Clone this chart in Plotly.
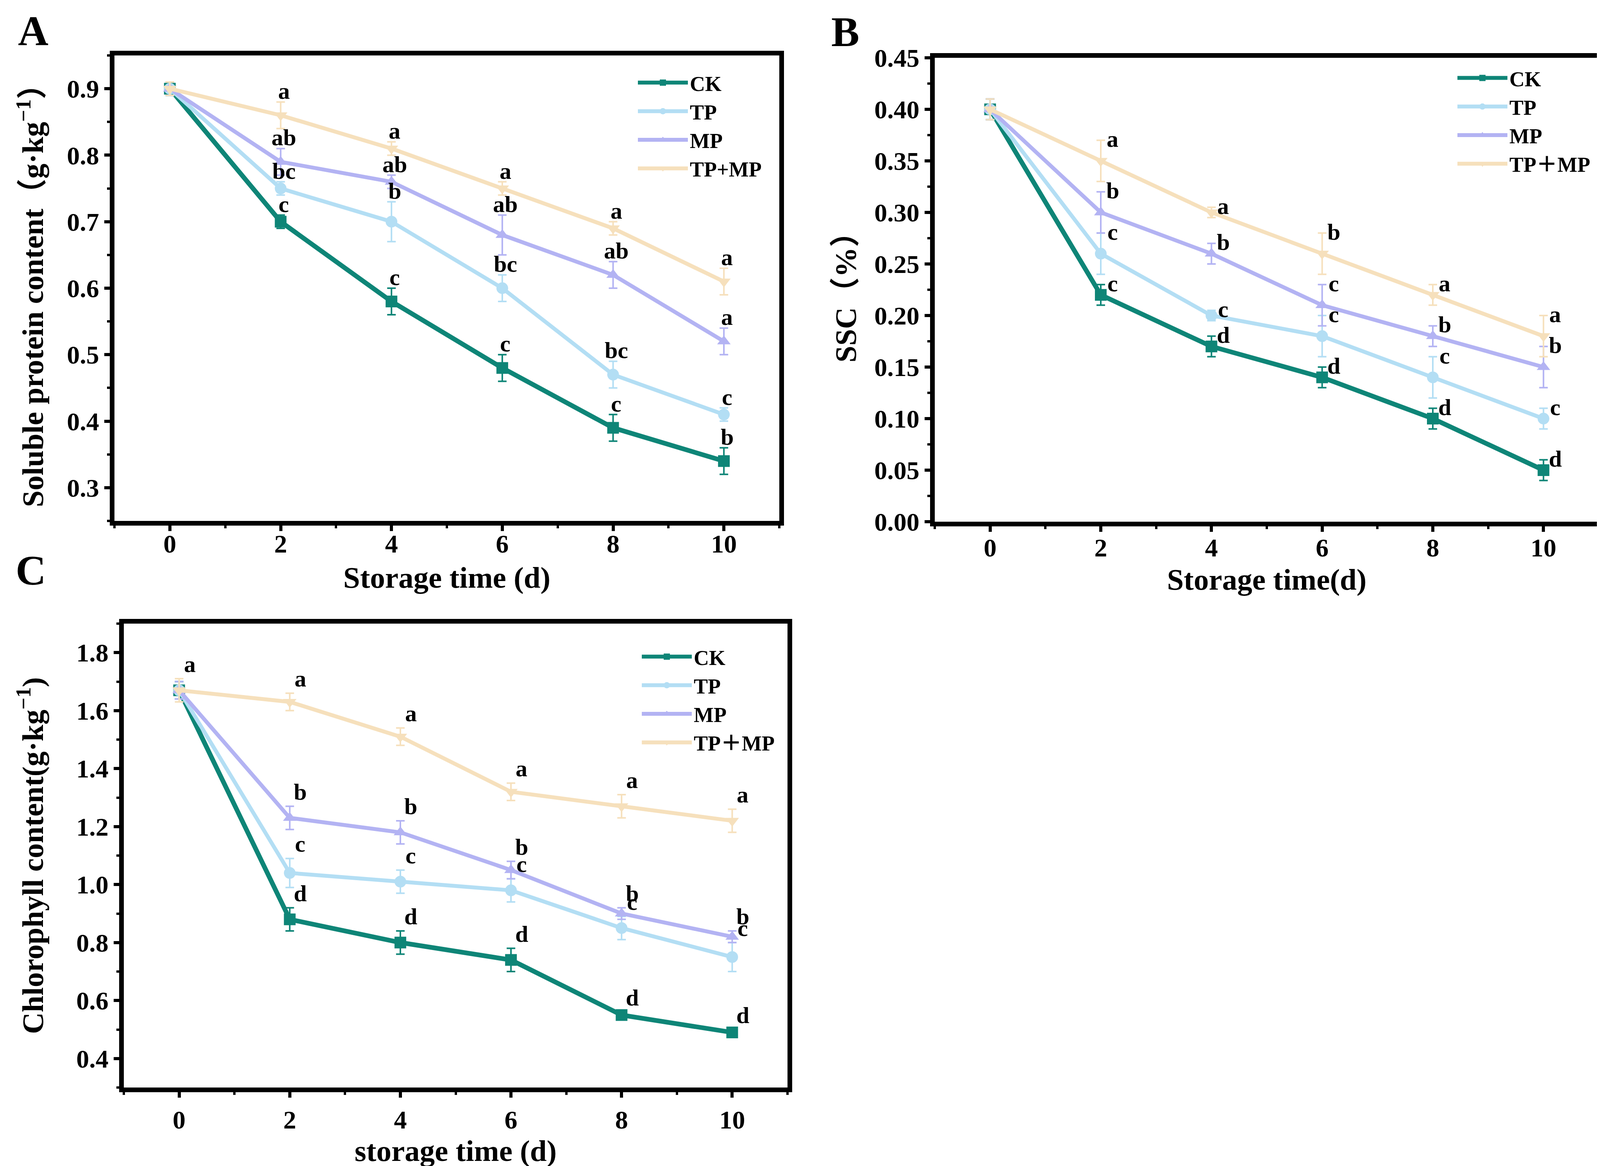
import plotly.graph_objects as go

# storage days
days = [0, 2, 4, 6, 8, 10]

series_names = ["CK", "TP", "MP", "TP+MP"]
colors = ["#0E8577", "#B3DEF4", "#B3B3F3", "#F6E0BC"]
symbols = ["square", "circle", "triangle-up", "triangle-down"]
line_widths = [12, 10, 10, 10]

# A: soluble protein content (g/kg)
protein_ck = [0.90, 0.70, 0.58, 0.48, 0.39, 0.34]
protein_tp = [0.90, 0.75, 0.70, 0.60, 0.47, 0.41]
protein_mp = [0.90, 0.79, 0.76, 0.68, 0.62, 0.52]
protein_tpmp = [0.90, 0.86, 0.81, 0.75, 0.69, 0.61]
protein_ck_err = [0.01, 0.01, 0.02, 0.02, 0.02, 0.02]
protein_tp_err = [0.01, 0.01, 0.03, 0.02, 0.02, 0.01]
protein_mp_err = [0.01, 0.02, 0.01, 0.03, 0.02, 0.02]
protein_tpmp_err = [0.01, 0.02, 0.01, 0.01, 0.01, 0.02]
protein_ck_sig = ["", "c", "c", "c", "c", "b"]
protein_tp_sig = ["", "bc", "b", "bc", "bc", "c"]
protein_mp_sig = ["", "ab", "ab", "ab", "ab", "a"]
protein_tpmp_sig = ["", "a", "a", "a", "a", "a"]

# B: SSC (%)
ssc_ck = [0.40, 0.22, 0.17, 0.14, 0.10, 0.05]
ssc_tp = [0.40, 0.26, 0.20, 0.18, 0.14, 0.10]
ssc_mp = [0.40, 0.30, 0.26, 0.21, 0.18, 0.15]
ssc_tpmp = [0.40, 0.35, 0.30, 0.26, 0.22, 0.18]
ssc_ck_err = [0.01, 0.01, 0.01, 0.01, 0.01, 0.01]
ssc_tp_err = [0.01, 0.02, 0.005, 0.02, 0.02, 0.01]
ssc_mp_err = [0.01, 0.02, 0.01, 0.02, 0.01, 0.02]
ssc_tpmp_err = [0.01, 0.02, 0.005, 0.02, 0.01, 0.02]
ssc_ck_sig = ["", "c", "d", "d", "d", "d"]
ssc_tp_sig = ["", "c", "c", "c", "c", "c"]
ssc_mp_sig = ["", "b", "b", "c", "b", "b"]
ssc_tpmp_sig = ["", "a", "a", "b", "a", "a"]

# C: chlorophyll content (g/kg)
chl_ck = [1.67, 0.88, 0.80, 0.74, 0.55, 0.49]
chl_tp = [1.67, 1.04, 1.01, 0.98, 0.85, 0.75]
chl_mp = [1.67, 1.23, 1.18, 1.05, 0.90, 0.82]
chl_tpmp = [1.67, 1.63, 1.51, 1.32, 1.27, 1.22]
chl_ck_err = [0.03, 0.04, 0.04, 0.04, 0.01, 0.01]
chl_tp_err = [0.03, 0.05, 0.04, 0.04, 0.04, 0.05]
chl_mp_err = [0.03, 0.04, 0.04, 0.03, 0.02, 0.02]
chl_tpmp_err = [0.04, 0.03, 0.03, 0.03, 0.04, 0.04]
chl_ck_sig = ["", "d", "d", "d", "d", "d"]
chl_tp_sig = ["", "c", "c", "c", "c", "c"]
chl_mp_sig = ["", "b", "b", "b", "b", "b"]
chl_tpmp_sig = ["a", "a", "a", "a", "a", "a"]

FONT = "Liberation Serif, Noto Sans CJK SC, serif"
W, H = 4135, 2986

panels = [
    dict(key="", legend="legend",
         values=[protein_ck, protein_tp, protein_mp, protein_tpmp],
         errors=[protein_ck_err, protein_tp_err, protein_mp_err, protein_tpmp_err],
         sigs=[protein_ck_sig, protein_tp_sig, protein_mp_sig, protein_tpmp_sig],
         labels=["CK", "TP", "MP", "TP+MP"],
         xdom=[285 / W, 1987 / W], ydom=[1 - 1326 / H, 1 - 134 / H],
         yrange=[0.25, 0.95], ydtick=0.1, yminor=0.05, yfmt=".1f",
         ytitle="Soluble protein content（g·kg<sup>−1</sup>）",
         xtitle="Storage time (d)", sig_dx=8, sig_dy=28,
         xlab_off=-24, xtitle_off=28, ytitle_off=40,
         leg_x=1620 / W, leg_y=1 - 162 / H),
    dict(key="2", legend="legend2",
         values=[ssc_ck, ssc_tp, ssc_mp, ssc_tpmp],
         errors=[ssc_ck_err, ssc_tp_err, ssc_mp_err, ssc_tpmp_err],
         sigs=[ssc_ck_sig, ssc_tp_sig, ssc_mp_sig, ssc_tpmp_sig],
         labels=["CK", "TP", "MP", "TP＋MP"],
         xdom=[2385 / W, 4085 / W], ydom=[1 - 1328 / H, 1 - 140 / H],
         yrange=[0, 0.45], ydtick=0.05, yminor=0.025, yfmt=".2f",
         ytitle="SSC（%）",
         xtitle="Storage time(d)", sig_dx=30, sig_dy=3,
         xlab_off=-16, xtitle_off=23, ytitle_off=26,
         leg_x=3718 / W, leg_y=1 - 150 / H),
    dict(key="3", legend="legend3",
         values=[chl_ck, chl_tp, chl_mp, chl_tpmp],
         errors=[chl_ck_err, chl_tp_err, chl_mp_err, chl_tpmp_err],
         sigs=[chl_ck_sig, chl_tp_sig, chl_mp_sig, chl_tpmp_sig],
         labels=["CK", "TP", "MP", "TP＋MP"],
         xdom=[309 / W, 2008 / W], ydom=[1 - 2777 / H, 1 - 1589 / H],
         yrange=[0.3, 1.9], ydtick=0.2, yminor=0.1, yfmt=".1f",
         ytitle="Chlorophyll content(g·kg<sup>−1</sup>)",
         xtitle="storage time (d)", sig_dx=27, sig_dy=37,
         xlab_off=0, xtitle_off=20, ytitle_off=64,
         leg_x=1630 / W, leg_y=1 - 1632 / H),
]

fig = go.Figure()
annotations = []

for p in panels:
    xa = "x" + p["key"]
    ya = "y" + p["key"]
    for i in range(4):
        fig.add_trace(go.Scatter(
            x=days, y=p["values"][i], xaxis=xa, yaxis=ya,
            mode="lines+markers", name=p["labels"][i], legend=p["legend"],
            line=dict(color=colors[i], width=line_widths[i]),
            marker=dict(symbol=symbols[i], size=30, color=colors[i]),
            error_y=dict(type="data", array=p["errors"][i], color=colors[i],
                         thickness=4, width=11),
        ))
        # significance letters above the error bars
        for d, v, e, s in zip(days, p["values"][i], p["errors"][i], p["sigs"][i]):
            if not s:
                continue
            annotations.append(dict(
                x=d, y=v + e, xref=xa, yref=ya, text=s, showarrow=False,
                xanchor="center", yanchor="middle",
                xshift=p["sig_dx"], yshift=p["sig_dy"],
                font=dict(family=FONT, size=60, color="black", weight="bold"),
            ))

    axis_common = dict(
        showline=True, linecolor="black", linewidth=12, mirror=True,
        ticks="outside", ticklen=14, tickwidth=8, tickcolor="black",
        showgrid=False, zeroline=False, automargin=False,
        tickfont=dict(family=FONT, size=66, color="black", weight="bold"),
    )
    xname = "xaxis" + p["key"]
    yname = "yaxis" + p["key"]
    fig.update_layout({
        xname: dict(axis_common, domain=p["xdom"], anchor=ya,
                    range=[-1, 11], tickvals=days,
                    ticklabelstandoff=p["xlab_off"],
                    minor=dict(ticks="outside", ticklen=7, tickwidth=6,
                               tickcolor="black", dtick=1, tick0=1),
                    title=dict(text=p["xtitle"], standoff=p["xtitle_off"],
                               font=dict(family=FONT, size=77, color="black",
                                         weight="bold"))),
        yname: dict(axis_common, domain=p["ydom"], anchor=xa,
                    range=p["yrange"], dtick=p["ydtick"], tick0=0,
                    tickformat=p["yfmt"],
                    minor=dict(ticks="outside", ticklen=7, tickwidth=6,
                               tickcolor="black", dtick=p["yminor"]),
                    title=dict(text=p["ytitle"], standoff=p["ytitle_off"],
                               font=dict(family=FONT, size=77, color="black",
                                         weight="bold"))),
        p["legend"]: dict(x=p["leg_x"], y=p["leg_y"], xanchor="left",
                          yanchor="top", bgcolor="rgba(0,0,0,0)",
                          font=dict(family=FONT, size=54, color="black",
                                    weight="bold"),
                          tracegroupgap=0, itemwidth=128),
    })

# panel letters
for txt, px, py in [("A", 77 / W, 1 - 72 / H), ("B", 2156 / W, 1 - 74 / H),
                    ("C", 71 / W, 1 - 1452 / H)]:
    annotations.append(dict(
        x=px, y=py, xref="paper", yref="paper", text=txt, showarrow=False,
        xanchor="center", yanchor="middle",
        font=dict(family=FONT, size=108, color="black", weight="bold"),
    ))

fig.update_layout(
    width=W, height=H,
    margin=dict(l=0, r=0, t=0, b=0, pad=0),
    paper_bgcolor="white", plot_bgcolor="white",
    showlegend=True,
    annotations=annotations,
)

fig.write_html("out.html")
